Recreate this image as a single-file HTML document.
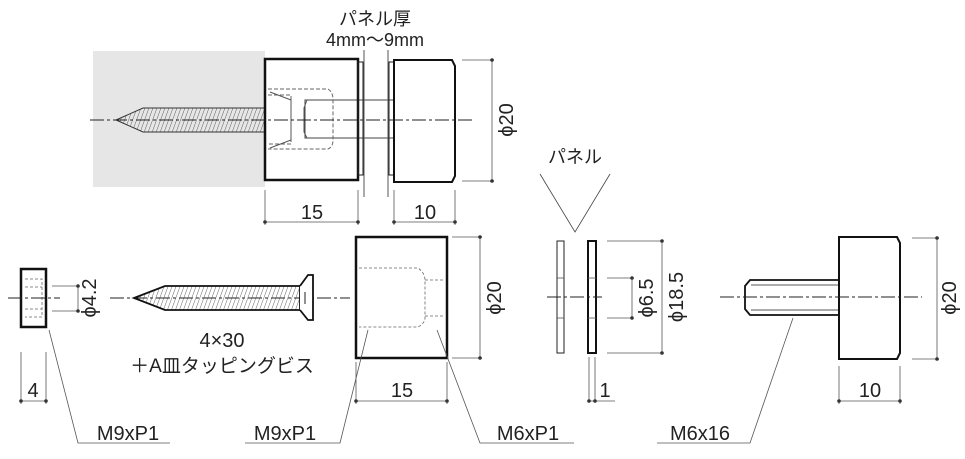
<!DOCTYPE html>
<html><head><meta charset="utf-8"><style>
html,body{margin:0;padding:0;background:#fff;}
svg{display:block;}
text{font-family:"Liberation Sans Narrow","Liberation Sans","Noto Sans CJK JP",sans-serif;fill:#222;}
</style></head><body>
<svg width="965" height="459" viewBox="0 0 965 459" xmlns="http://www.w3.org/2000/svg">
<defs>
<pattern id="thr" width="4" height="30" patternUnits="userSpaceOnUse" patternTransform="skewX(-20)">
<line x1="0" y1="0" x2="0" y2="30" stroke="#333" stroke-width="0.8"/>
</pattern>
</defs>
<g fill="none" stroke="#222">
<rect x="93" y="51" width="172" height="136" fill="#e6e6e6" stroke="none"/>
<polygon points="116,120 143,108 265,108 265,132 143,132" fill="url(#thr)" stroke="#333" stroke-width="1"/>
<rect x="305" y="100" width="89" height="38" fill="#fff" stroke="#444" stroke-width="1"/>
<rect x="265" y="59" width="93" height="121" fill="none" stroke="#111" stroke-width="2.5"/>
<g stroke="#666" stroke-width="1" stroke-dasharray="4,2">
<path d="M268,89 H328 Q333,92 333,100 V140 Q333,147 328,149 H268"/>
<path d="M268,95 H291 V144 H268"/>
</g>
<path d="M270,92 L291,100 V140 L270,148" stroke="#555" stroke-width="1"/>
<path d="M307,100 L304,108 V132 L307,138" stroke="#555"/>
<rect x="358" y="62" width="5" height="113" stroke-width="1"/>
<rect x="389" y="62" width="5" height="113" stroke-width="1"/>
<line x1="364" y1="50" x2="364" y2="197" stroke="#555" stroke-width="1"/>
<line x1="388" y1="50" x2="388" y2="197" stroke="#555" stroke-width="1"/>
<path d="M394,60 H452 L455,66 V176 L452,182 H394 Z" fill="#fff" stroke="#111" stroke-width="2"/>
<line x1="90" y1="120" x2="473" y2="120" stroke="#222" stroke-width="1" stroke-dasharray="14,3,3,3"/>
<g stroke="#555" stroke-width="0.8">
<line x1="462" y1="60" x2="494" y2="60"/><line x1="462" y1="181" x2="494" y2="181"/>
<line x1="492" y1="60" x2="492" y2="181"/>
<line x1="265" y1="190" x2="265" y2="225"/><line x1="358" y1="190" x2="358" y2="225"/>
<line x1="265" y1="222" x2="358" y2="222"/>
<line x1="394" y1="190" x2="394" y2="225"/><line x1="455" y1="190" x2="455" y2="225"/>
<line x1="394" y1="222" x2="455" y2="222"/>
</g>

<rect x="21" y="269" width="25" height="58" stroke="#111" stroke-width="2.5"/>
<g stroke="#666" stroke-width="0.8" stroke-dasharray="3,2"><path d="M25,279 H42 V317 H25 M25,287 H42 M25,309 H42"/></g>
<line x1="8" y1="298" x2="60" y2="298" stroke-width="1" stroke-dasharray="14,3,3,3"/>
<g stroke="#555" stroke-width="0.8">
<line x1="52" y1="286" x2="78" y2="286"/><line x1="52" y1="311" x2="78" y2="311"/><line x1="78" y1="286" x2="78" y2="311"/>
<line x1="21" y1="352" x2="21" y2="404"/><line x1="46" y1="352" x2="46" y2="404"/><line x1="21" y1="401" x2="46" y2="401"/>
<polyline points="49,330 78,443 170,443"/>
</g>
<line x1="110" y1="298" x2="350" y2="298" stroke-width="1" stroke-dasharray="14,3,3,3"/>
<polygon points="134,298 165,286 300,286 300,310 165,310" fill="url(#thr)" stroke="#111" stroke-width="1.8"/>
<path d="M300,286 L308,275 H313 V320 H308 L300,310" fill="#fff" stroke="#111" stroke-width="1.8"/>
<line x1="305" y1="292" x2="305" y2="304" stroke-width="1"/>
<rect x="356" y="237" width="91" height="121" stroke="#111" stroke-width="2.5"/>
<g stroke="#666" stroke-width="0.8" stroke-dasharray="3,2">
<path d="M359,268 H418 Q425,273 425,280 V318 Q425,323 418,327 H359"/>
<path d="M425,280 H444 M425,316 H444"/>
</g>
<g stroke="#555" stroke-width="0.8">
<line x1="452" y1="237" x2="482" y2="237"/><line x1="452" y1="358" x2="482" y2="358"/><line x1="480" y1="237" x2="480" y2="358"/>
<line x1="356" y1="362" x2="356" y2="404"/><line x1="447" y1="362" x2="447" y2="404"/><line x1="356" y1="401" x2="447" y2="401"/>
<polyline points="368,330 340,443 245,443"/>
<polyline points="437,330 480,443 574,443"/>
</g>
<polyline points="540,174 575,232 610,174" stroke="#444" stroke-width="0.8"/>
<rect x="557" y="241" width="7" height="112" stroke-width="1"/>
<rect x="588" y="241" width="8" height="112" stroke="#111" stroke-width="2"/>
<line x1="547" y1="297" x2="602" y2="297" stroke-width="1" stroke-dasharray="14,3,3,3"/>
<g stroke="#555" stroke-width="0.8">
<line x1="557" y1="278" x2="564" y2="278"/><line x1="557" y1="318" x2="564" y2="318"/>
<line x1="588" y1="278" x2="596" y2="278"/><line x1="588" y1="318" x2="596" y2="318"/>
<line x1="607" y1="278" x2="632" y2="278"/><line x1="607" y1="318" x2="632" y2="318"/><line x1="632" y1="278" x2="632" y2="318"/>
<line x1="607" y1="241" x2="662" y2="241"/><line x1="607" y1="353" x2="662" y2="353"/><line x1="662" y1="241" x2="662" y2="353"/>
<line x1="589" y1="357" x2="589" y2="402"/><line x1="595" y1="357" x2="595" y2="402"/><line x1="589" y1="401" x2="615" y2="401"/>
</g>
<path d="M750,280 H840 V315 H750 L745,309 V286 Z" fill="#fff" stroke="#111" stroke-width="1.8"/>
<line x1="751" y1="285" x2="840" y2="285" stroke-width="0.8"/>
<line x1="751" y1="310" x2="840" y2="310" stroke-width="0.8"/>
<path d="M839,237 H897 L900,243 V353 L897,359 H839 Z" fill="#fff" stroke="#111" stroke-width="2"/>
<line x1="720" y1="297" x2="922" y2="297" stroke-width="1" stroke-dasharray="14,3,3,3"/>
<g stroke="#555" stroke-width="0.8">
<line x1="912" y1="238" x2="939" y2="238"/><line x1="912" y1="359" x2="939" y2="359"/><line x1="937" y1="238" x2="937" y2="359"/>
<line x1="839" y1="366" x2="839" y2="404"/><line x1="900" y1="366" x2="900" y2="404"/><line x1="839" y1="401" x2="900" y2="401"/>
<polyline points="793,318 750,443 657,443"/>
</g>
</g>
<g fill="#333">
<circle cx="492" cy="60" r="1.8"/><circle cx="492" cy="181" r="1.8"/>
<circle cx="265" cy="222" r="1.8"/><circle cx="358" cy="222" r="1.8"/><circle cx="394" cy="222" r="1.8"/><circle cx="455" cy="222" r="1.8"/>
<circle cx="78" cy="286" r="1.8"/><circle cx="78" cy="311" r="1.8"/><circle cx="21" cy="401" r="1.8"/><circle cx="46" cy="401" r="1.8"/>
<circle cx="480" cy="237" r="1.8"/><circle cx="480" cy="358" r="1.8"/><circle cx="356" cy="401" r="1.8"/><circle cx="447" cy="401" r="1.8"/>
<circle cx="632" cy="278" r="1.8"/><circle cx="632" cy="318" r="1.8"/><circle cx="662" cy="241" r="1.8"/><circle cx="662" cy="353" r="1.8"/>
<circle cx="589" cy="401" r="1.8"/><circle cx="595" cy="401" r="1.8"/>
<circle cx="937" cy="238" r="1.8"/><circle cx="937" cy="359" r="1.8"/><circle cx="839" cy="401" r="1.8"/><circle cx="900" cy="401" r="1.8"/>
</g>
<g font-size="20">
<text x="375" y="25" text-anchor="middle" font-size="18">パネル厚</text>
<text x="375" y="46" text-anchor="middle" font-size="18">4mm～9mm</text>
<text x="312" y="219" text-anchor="middle">15</text>
<text x="425" y="219" text-anchor="middle">10</text>
<text transform="translate(513,120) rotate(-90)" text-anchor="middle">ϕ20</text>
<text transform="translate(96,298) rotate(-90)" text-anchor="middle">ϕ4.2</text>
<text x="33" y="397" text-anchor="middle">4</text>
<text x="222" y="347" text-anchor="middle">4×30</text>
<text x="222" y="372" text-anchor="middle" font-size="19">＋A皿タッピングビス</text>
<text transform="translate(501,298) rotate(-90)" text-anchor="middle">ϕ20</text>
<text x="402" y="397" text-anchor="middle">15</text>
<text x="128" y="440" text-anchor="middle">M9xP1</text>
<text x="285" y="440" text-anchor="middle">M9xP1</text>
<text x="528" y="440" text-anchor="middle">M6xP1</text>
<text x="575" y="163" text-anchor="middle" font-size="18">パネル</text>
<text transform="translate(653,298) rotate(-90)" text-anchor="middle">ϕ6.5</text>
<text transform="translate(683,297) rotate(-90)" text-anchor="middle">ϕ18.5</text>
<text x="605" y="397" text-anchor="middle">1</text>
<text transform="translate(956,298) rotate(-90)" text-anchor="middle">ϕ20</text>
<text x="870" y="397" text-anchor="middle">10</text>
<text x="700" y="440" text-anchor="middle">M6x16</text>
</g>
</svg>
</body></html>
